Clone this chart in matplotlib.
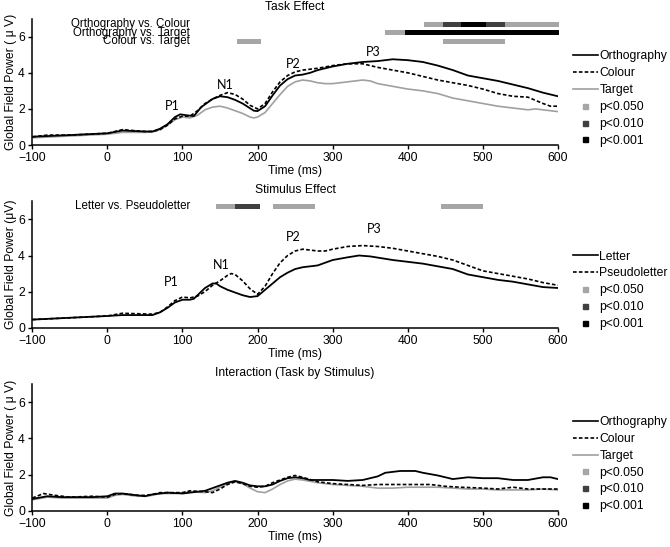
import matplotlib
matplotlib.use("Agg")
import matplotlib.pyplot as plt
from matplotlib.lines import Line2D

plt.rcParams['font.family'] = ['Liberation Sans', 'DejaVu Sans']
plt.rcParams['font.size'] = 8.7

# ---------------- data ----------------
# Panel 1: Task effect
t1_orth = [-100, -50, 0, 20, 50, 60, 70, 80, 90, 97, 105, 115, 125, 140, 150, 160, 170, 180, 195, 200,
           210, 220, 230, 240, 250, 260, 270, 280, 300, 320, 340, 360, 380, 400, 420, 440, 460, 480,
           500, 520, 540, 560, 580, 600]
v1_orth = [0.46, 0.55, 0.65, 0.8, 0.75, 0.75, 0.9, 1.15, 1.55, 1.7, 1.65, 1.6, 2.1, 2.55, 2.7, 2.65, 2.5,
           2.3, 1.9, 1.88, 2.15, 2.75, 3.3, 3.65, 3.85, 3.9, 4.0, 4.15, 4.35, 4.5, 4.6, 4.65, 4.75, 4.7,
           4.6, 4.4, 4.15, 3.85, 3.7, 3.55, 3.35, 3.15, 2.9, 2.7]
t1_col = [-100, -80, -50, 0, 20, 50, 60, 70, 80, 90, 100, 110, 120, 130, 140, 150, 160, 170, 180, 190,
          200, 210, 220, 230, 240, 250, 260, 270, 280, 300, 320, 340, 350, 360, 380, 400, 420, 440, 460,
          480, 500, 520, 540, 560, 580, 590, 600]
v1_col = [0.45, 0.55, 0.55, 0.65, 0.85, 0.75, 0.75, 0.85, 1.1, 1.45, 1.6, 1.6, 1.9, 2.3, 2.55, 2.75, 2.9,
          2.8, 2.55, 2.2, 2.0, 2.3, 2.95, 3.5, 3.85, 4.05, 4.15, 4.2, 4.25, 4.4, 4.5, 4.5, 4.4, 4.3, 4.15,
          4.0, 3.8, 3.6, 3.45, 3.3, 3.1, 2.85, 2.7, 2.65, 2.3, 2.15, 2.15]
t1_tar = [-100, -50, 0, 20, 50, 60, 70, 80, 90, 100, 110, 120, 130, 140, 150, 160, 170, 180, 190, 195,
          200, 210, 220, 230, 240, 250, 260, 270, 280, 290, 300, 320, 340, 350, 360, 380, 400, 420, 440,
          460, 480, 500, 520, 540, 560, 570, 580, 600]
v1_tar = [0.4, 0.5, 0.6, 0.7, 0.7, 0.72, 0.85, 1.1, 1.4, 1.55, 1.5, 1.65, 1.95, 2.1, 2.15, 2.05, 1.9, 1.75,
          1.55, 1.5, 1.55, 1.8, 2.3, 2.8, 3.25, 3.5, 3.6, 3.55, 3.45, 3.4, 3.4, 3.5, 3.6, 3.55, 3.4, 3.25,
          3.1, 3.0, 2.85, 2.6, 2.45, 2.3, 2.15, 2.05, 1.95, 2.0, 1.95, 1.85]

# Panel 2: Stimulus effect
t2_let = [-100, -50, 0, 20, 60, 70, 80, 90, 100, 110, 115, 120, 130, 140, 145, 150, 160, 170, 180, 190,
          200, 210, 220, 230, 240, 250, 260, 270, 280, 290, 300, 320, 335, 350, 380, 400, 420, 440, 460,
          480, 500, 520, 540, 560, 580, 600]
v2_let = [0.45, 0.55, 0.65, 0.7, 0.7, 0.85, 1.1, 1.4, 1.55, 1.55, 1.6, 1.8, 2.2, 2.45, 2.45, 2.3, 2.1,
          1.95, 1.8, 1.7, 1.75, 2.1, 2.45, 2.8, 3.05, 3.25, 3.35, 3.4, 3.45, 3.6, 3.75, 3.9, 4.0, 3.95,
          3.75, 3.65, 3.55, 3.4, 3.25, 2.95, 2.8, 2.65, 2.55, 2.4, 2.25, 2.2]
t2_pse = [-100, -50, 0, 20, 60, 70, 80, 90, 100, 110, 120, 130, 140, 150, 160, 165, 170, 180, 190, 200,
          210, 220, 230, 240, 250, 260, 270, 280, 290, 300, 320, 340, 360, 380, 400, 420, 440, 460, 480,
          500, 520, 540, 560, 580, 600]
v2_pse = [0.45, 0.55, 0.65, 0.8, 0.75, 0.85, 1.15, 1.5, 1.7, 1.65, 1.75, 2.0, 2.35, 2.6, 2.9, 3.0, 2.95,
          2.6, 2.15, 1.85, 2.3, 3.0, 3.6, 4.0, 4.25, 4.35, 4.3, 4.25, 4.25, 4.35, 4.5, 4.55, 4.5, 4.4,
          4.25, 4.1, 3.95, 3.75, 3.45, 3.15, 3.0, 2.85, 2.7, 2.5, 2.35]

# Panel 3: Interaction
t3_orth = [-100, -80, -60, -40, -20, 0, 10, 20, 40, 50, 60, 80, 100, 120, 130, 140, 150, 160, 170, 180,
           190, 200, 210, 220, 230, 240, 250, 260, 270, 280, 300, 320, 340, 360, 370, 390, 410, 420, 440,
           460, 470, 480, 500, 520, 540, 560, 580, 590, 600]
v3_orth = [0.65, 0.8, 0.75, 0.75, 0.75, 0.8, 0.95, 0.95, 0.85, 0.8, 0.9, 1.0, 0.95, 1.05, 1.1, 1.25, 1.4,
           1.55, 1.65, 1.55, 1.4, 1.35, 1.35, 1.45, 1.65, 1.8, 1.85, 1.8, 1.7, 1.7, 1.7, 1.65, 1.7, 1.9,
           2.1, 2.2, 2.2, 2.1, 1.95, 1.75, 1.8, 1.85, 1.8, 1.8, 1.7, 1.7, 1.85, 1.85, 1.75]
t3_col = [-100, -85, -70, -50, -20, 0, 10, 20, 40, 50, 60, 70, 90, 100, 110, 130, 140, 150, 160, 170, 180,
          190, 200, 210, 220, 240, 250, 260, 280, 300, 320, 340, 360, 380, 400, 430, 450, 470, 500, 520,
          540, 560, 580, 600]
v3_col = [0.7, 0.95, 0.85, 0.75, 0.8, 0.75, 0.9, 0.95, 0.85, 0.85, 0.9, 1.0, 1.0, 1.0, 1.1, 1.05, 1.0,
          1.2, 1.45, 1.6, 1.5, 1.35, 1.3, 1.35, 1.55, 1.85, 1.95, 1.85, 1.6, 1.5, 1.45, 1.4, 1.45, 1.45,
          1.45, 1.45, 1.35, 1.3, 1.25, 1.2, 1.3, 1.2, 1.2, 1.2]
t3_tar = [-100, -80, -60, -40, -20, 0, 10, 20, 40, 50, 60, 70, 90, 100, 110, 130, 140, 150, 160, 170, 180,
          190, 200, 210, 220, 230, 240, 250, 260, 280, 300, 320, 340, 360, 380, 400, 420, 440, 460, 480,
          500, 520, 540, 560, 580, 600]
v3_tar = [0.6, 0.75, 0.7, 0.7, 0.7, 0.7, 0.85, 0.9, 0.8, 0.8, 0.85, 0.95, 0.95, 1.0, 1.05, 1.0, 1.1, 1.3,
          1.5, 1.6, 1.5, 1.25, 1.05, 1.0, 1.2, 1.45, 1.65, 1.75, 1.7, 1.55, 1.45, 1.4, 1.35, 1.25, 1.25,
          1.3, 1.3, 1.3, 1.25, 1.2, 1.2, 1.15, 1.15, 1.15, 1.2, 1.15]

# Significance segments: (start ms, end ms, level 0=p<.05, 1=p<.01, 2=p<.001)
sig_orth_col = [(421, 447, 0), (447, 471, 1), (471, 504, 2), (504, 530, 1), (530, 602, 0)]
sig_orth_tar = [(370, 396, 0), (396, 602, 2)]
sig_col_tar = [(172, 205, 0), (447, 529, 0)]
sig_let_pse = [(145, 170, 0), (170, 203, 1), (220, 276, 0), (444, 500, 0)]

p_labels = ['p<0.050', 'p<0.010', 'p<0.001']
p_colors = ['#a6a6a6', '#404040', '#000000']

peaks1 = [('P1', 86, 2.14), ('N1', 157, 3.3), ('P2', 247, 4.5), ('P3', 354, 5.17)]
peaks2 = [('P1', 85, 2.53), ('N1', 151, 3.49), ('P2', 247, 5.0), ('P3', 355, 5.45)]

# ---------------- plotting ----------------
fig = plt.figure(figsize=(6.7, 5.47), dpi=100)
L, W, H = 0.0482, 0.7846, 0.231
ax1 = fig.add_axes([L, 0.7349, W, H])
ax2 = fig.add_axes([L, 0.4009, W, H])
ax3 = fig.add_axes([L, 0.0664, W, H])

GRAY = '#a0a0a0'
PEAKFONT = ['Lato', 'DejaVu Sans']
DASH = (2.2, 1.3)


def style(ax, title, ylabel):
    ax.set_xlim(-100, 600)
    ax.set_ylim(0, 7)
    ax.set_xticks(range(-100, 601, 100))
    ax.set_yticks([0, 2, 4, 6])
    for s in ['top', 'right']:
        ax.spines[s].set_visible(False)
    for s in ['left', 'bottom']:
        ax.spines[s].set_linewidth(1.1)
    ax.tick_params(direction='out', length=2.8, width=1.0, pad=2.5, labelsize=8.7)
    ax.set_xlabel('Time (ms)', fontsize=8.7, labelpad=0.5)
    ax.set_ylabel(ylabel, fontsize=8.7, labelpad=1)
    ax.set_title(title, fontsize=8.7, pad=6)


def sig_row(ax, segs, y, label):
    for (a, b, lev) in segs:
        ax.barh(y, b - a, left=a, height=0.27, color=p_colors[lev], linewidth=0, clip_on=False)
    ax.text(110, y, label, ha='right', va='center', fontsize=8.3)


def legend(ax, names, styles, top):
    handles = []
    for (c, ls) in styles:
        if ls == '--':
            handles.append(Line2D([], [], color=c, ls='--', dashes=DASH, lw=1.2))
        else:
            handles.append(Line2D([], [], color=c, ls=ls, lw=1.2))
    handles += [Line2D([], [], color=c, marker='s', ls='none', markersize=3.6) for c in p_colors]
    ax.legend(handles, names + p_labels, loc='upper left', bbox_to_anchor=(1.028, top),
              frameon=False, fontsize=8.7, handlelength=2.1, handletextpad=0.1,
              labelspacing=0.4, borderpad=0, borderaxespad=0)


tri_styles = [('black', '-'), ('black', '--'), (GRAY, '-')]
tri_names = ['Orthography', 'Colour', 'Target']

# Panel 1
ax1.plot(t1_tar, v1_tar, color=GRAY, lw=1.2)
ax1.plot(t1_col, v1_col, color='black', ls='--', lw=1.2, dashes=DASH)
ax1.plot(t1_orth, v1_orth, color='black', lw=1.3)
sig_row(ax1, sig_orth_col, 6.70, 'Orthography vs. Colour')
sig_row(ax1, sig_orth_tar, 6.22, 'Orthography vs. Target')
sig_row(ax1, sig_col_tar, 5.75, 'Colour vs. Target')
for (n, x, y) in peaks1:
    ax1.text(x, y, n, ha='center', va='center', fontsize=9, family=PEAKFONT)
style(ax1, 'Task Effect', 'Global Field Power ( \u03bc V)')
legend(ax1, tri_names, tri_styles, 0.748)

# Panel 2
ax2.plot(t2_pse, v2_pse, color='black', ls='--', lw=1.2, dashes=DASH)
ax2.plot(t2_let, v2_let, color='black', lw=1.3)
sig_row(ax2, sig_let_pse, 6.73, 'Letter vs. Pseudoletter')
for (n, x, y) in peaks2:
    ax2.text(x, y, n, ha='center', va='center', fontsize=9, family=PEAKFONT)
style(ax2, 'Stimulus Effect', 'Global Field Power (\u03bcV)')
legend(ax2, ['Letter', 'Pseudoletter'], [('black', '-'), ('black', '--')], 0.611)

# Panel 3
ax3.plot(t3_tar, v3_tar, color=GRAY, lw=1.2)
ax3.plot(t3_col, v3_col, color='black', ls='--', lw=1.2, dashes=DASH)
ax3.plot(t3_orth, v3_orth, color='black', lw=1.3)
style(ax3, 'Interaction (Task by Stimulus)', 'Global Field Power ( \u03bc V)')
legend(ax3, tri_names, tri_styles, 0.748)

fig.savefig('out.png', dpi=100)
